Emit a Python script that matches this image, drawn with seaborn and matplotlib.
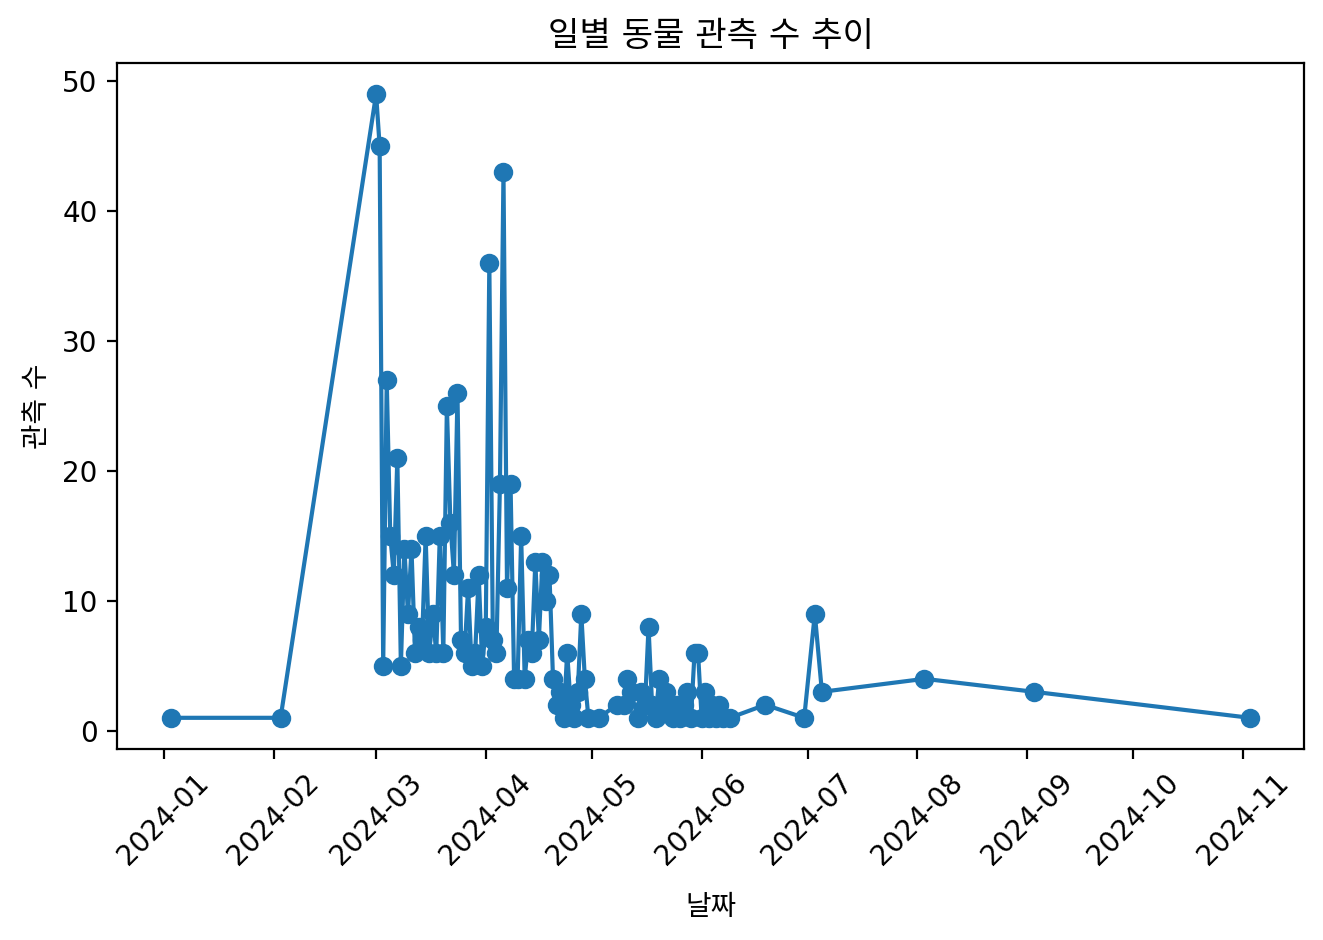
import matplotlib
matplotlib.use("Agg")
import matplotlib.pyplot as plt
import matplotlib.dates as mdates
import seaborn as sns
import pandas as pd

plt.rcParams['font.family'] = ['DejaVu Sans', 'Noto Sans CJK KR']
plt.rcParams['axes.unicode_minus'] = False

dates = [
    "2024-01-03", "2024-02-03",
    "2024-03-01", "2024-03-02", "2024-03-03", "2024-03-04", "2024-03-05", "2024-03-06",
    "2024-03-07", "2024-03-08", "2024-03-09", "2024-03-10", "2024-03-11", "2024-03-12",
    "2024-03-13", "2024-03-14", "2024-03-15", "2024-03-16", "2024-03-17", "2024-03-18",
    "2024-03-19", "2024-03-20", "2024-03-21", "2024-03-22", "2024-03-23", "2024-03-24",
    "2024-03-25", "2024-03-26", "2024-03-27", "2024-03-28", "2024-03-29", "2024-03-30",
    "2024-03-31", "2024-04-01", "2024-04-02", "2024-04-03", "2024-04-04", "2024-04-05",
    "2024-04-06", "2024-04-07", "2024-04-08", "2024-04-09", "2024-04-10", "2024-04-11",
    "2024-04-12", "2024-04-13", "2024-04-14", "2024-04-15", "2024-04-16", "2024-04-17",
    "2024-04-18", "2024-04-19", "2024-04-20", "2024-04-21", "2024-04-22", "2024-04-23",
    "2024-04-24", "2024-04-25", "2024-04-26", "2024-04-27", "2024-04-28", "2024-04-29",
    "2024-04-30", "2024-05-03", "2024-05-08", "2024-05-10", "2024-05-11", "2024-05-12",
    "2024-05-14", "2024-05-15", "2024-05-16", "2024-05-17", "2024-05-18", "2024-05-19",
    "2024-05-20", "2024-05-21", "2024-05-22", "2024-05-23", "2024-05-24", "2024-05-25",
    "2024-05-26", "2024-05-27", "2024-05-28", "2024-05-29", "2024-05-30", "2024-05-31",
    "2024-06-01", "2024-06-02", "2024-06-03", "2024-06-04", "2024-06-05", "2024-06-06",
    "2024-06-07", "2024-06-09", "2024-06-19", "2024-06-30", "2024-07-03", "2024-07-05",
    "2024-08-03", "2024-09-03", "2024-11-03",
]
counts = [
    1, 1,
    49, 45, 5, 27, 15, 12,
    21, 5, 14, 9, 14, 6,
    8, 7, 15, 6, 9, 6,
    15, 6, 25, 16, 12, 26,
    7, 6, 11, 5, 6, 12,
    5, 8, 36, 7, 6, 19,
    43, 11, 19, 4, 4, 15,
    4, 7, 6, 13, 7, 13,
    10, 12, 4, 2, 3, 1,
    6, 2, 1, 3, 9, 4,
    1, 1, 2, 2, 4, 3,
    1, 3, 2, 8, 2, 1,
    4, 2, 3, 2, 1, 2,
    1, 2, 3, 1, 6, 6,
    1, 3, 1, 2, 1, 2,
    1, 1, 2, 1, 9, 3,
    4, 3, 1,
]

title = "일별 동물 관측 수 추이"
xlabel = "날짜"
ylabel = "관측 수"

df = pd.DataFrame({"date": pd.to_datetime(dates), "count": counts})

fig, ax = plt.subplots(figsize=(6.615, 4.7), dpi=200)
color = "#1f77b4"
sns.lineplot(data=df, x="date", y="count", marker="o", color=color,
             markeredgecolor=color, markeredgewidth=1, markersize=6,
             linewidth=1.5, ax=ax)

ax.xaxis.set_major_locator(mdates.MonthLocator())
ax.xaxis.set_major_formatter(mdates.DateFormatter("%Y-%m"))
plt.setp(ax.get_xticklabels(), rotation=45)
ax.set_title(title, fontsize=12.3)
ax.set_xlabel(xlabel, labelpad=8)
ax.set_ylabel(ylabel)
ax.margins(x=0.05, y=0.05)

fig.subplots_adjust(left=0.0884, right=0.9856, top=0.933, bottom=0.2032)
fig.savefig("out.png", dpi=200)
